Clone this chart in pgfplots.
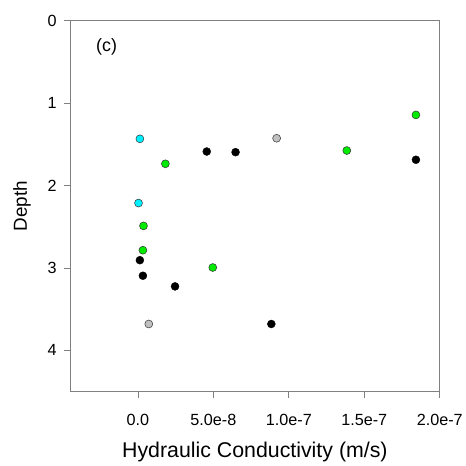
\documentclass[border=0pt]{standalone}
\usepackage{pgfplots}
\pgfplotsset{compat=1.18}
\usepackage{fontspec}
\setmainfont{Liberation Sans}
\definecolor{frame}{RGB}{128,128,128}
\definecolor{ptcyan}{RGB}{0,240,255}
\definecolor{ptgreen}{RGB}{0,235,0}
\definecolor{ptgray}{RGB}{192,192,192}
\begin{document}
\begin{tikzpicture}
\begin{axis}[
  scale only axis,
  width=371.4bp, height=372.6bp,
  xmin=-4.5e-8, xmax=2e-7,
  ymin=0, ymax=4.5,
  y dir=reverse,
  xtick={0,5e-8,1e-7,1.5e-7,2e-7},
  xticklabels={0.0,5.0e-8,1.0e-7,1.5e-7,2.0e-7},
  ytick={0,1,2,3,4},
  scaled x ticks=false,
  /pgf/number format/assume math mode=true,
  tick align=outside,
  major tick length=6bp,
  xtick pos=bottom, ytick pos=left,
  axis line style={frame, line width=0.8pt},
  every tick/.style={frame, line width=0.8pt},
  tick label style={font=\fontsize{16.3}{18}\selectfont},
  xticklabel style={yshift=-13bp},
  yticklabel style={xshift=-4bp},
  xlabel={Hydraulic Conductivity (m/s)},
  ylabel={Depth},
  xlabel style={font=\fontsize{21.5}{24}\selectfont, yshift=-10bp},
  ylabel style={font=\fontsize{19}{22}\selectfont, yshift=10bp},
  clip=false,
]
\addplot[only marks, mark=*, mark size=4bp, mark options={fill=black, draw=black, line width=0.4pt}] coordinates {
 (4.56e-8,1.588) (6.47e-8,1.596) (1.842e-7,1.688) (1.3e-9,2.906) (3.3e-9,3.095) (2.46e-8,3.224) (8.84e-8,3.68)
};
\addplot[only marks, mark=*, mark size=4bp, mark options={fill=ptgreen, draw=black!80, line width=0.5pt}] coordinates {
 (1.842e-7,1.144) (1.384e-7,1.576) (1.82e-8,1.737) (3.7e-9,2.49) (3.3e-9,2.785) (4.96e-8,2.995)
};
\addplot[only marks, mark=*, mark size=4bp, mark options={fill=ptcyan, draw=black!80, line width=0.5pt}] coordinates {
 (1.3e-9,1.434) (0.4e-9,2.213)
};
\addplot[only marks, mark=*, mark size=4bp, mark options={fill=ptgray, draw=black!80, line width=0.5pt}] coordinates {
 (9.19e-8,1.427) (7.2e-9,3.68)
};
\node[font=\fontsize{18}{20}\selectfont] at (rel axis cs:0.099,0.929) {(c)};
\end{axis}
\path (current axis.south west) ++(-70.3bp,-69.7bp) coordinate (bbsw);
\path (current axis.north east) ++(24.3bp,20.7bp) coordinate (bbne);
\path (bbsw) rectangle (bbne);
\end{tikzpicture}
\end{document}
